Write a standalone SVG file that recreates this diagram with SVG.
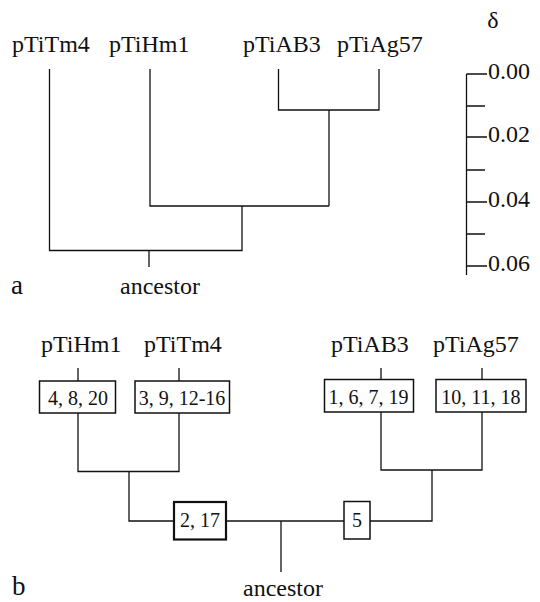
<svg xmlns="http://www.w3.org/2000/svg" width="540" height="602" viewBox="0 0 540 602">
<style>
  text { font-family: 'Liberation Serif', 'Times New Roman', serif; fill: #111; }
  .lab { font-size: 24px; }
  .num { font-size: 20px; }
  .pl { font-size: 27px; }
  .ln { stroke: #111; stroke-width: 1.3; fill: none; }
  .box { stroke: #111; stroke-width: 1.5; fill: #fff; }
  .boxb { stroke: #111; stroke-width: 2.2; fill: #fff; }
</style>
<rect width="540" height="602" fill="#fff"/>
<!-- Panel a -->
<g id="a-labels">
  <text class="lab" x="12" y="52">pTiTm4</text>
  <text class="lab" x="109" y="52">pTiHm1</text>
  <text class="lab" x="243" y="52">pTiAB3</text>
  <text class="lab" x="337" y="52">pTiAg57</text>
  <text class="lab" x="160" y="294" text-anchor="middle">ancestor</text>
  <text class="pl" x="11" y="294">a</text>
</g>
<g id="a-tree" class="ln">
  <path d="M49.5,69 V250.5 H242 V206"/>
  <path d="M150,69 V206 H329"/>
  <path d="M329,206 V110"/>
  <path d="M278.5,69 V110 H379 V69"/>
  <path d="M149,250.5 V267"/>
</g>
<g id="scale">
  <text class="lab" x="493" y="28" text-anchor="middle">δ</text>
  <g class="ln">
    <path d="M466.5,74 V275"/>
    <path d="M466.5,74 H487 M466.5,106 H485 M466.5,137 H487 M466.5,170 H485 M466.5,202 H487 M466.5,234 H485 M466.5,266 H487"/>
  </g>
  <text class="lab" x="488" y="79">0.00</text>
  <text class="lab" x="488" y="142">0.02</text>
  <text class="lab" x="488" y="207">0.04</text>
  <text class="lab" x="488" y="271">0.06</text>
</g>

<!-- Panel b -->
<g id="b-connectors" class="ln">
  <path d="M78,368 V381 M179,368 V381 M381,368 V380 M482,368 V380"/>
  <path d="M78,413 V471.5 H179 V413"/>
  <path d="M129,471.5 V521 H174"/>
  <path d="M226,521 H344"/>
  <path d="M370,521 H432 V470 M381,412 V470 H482 V412"/>
  <path d="M281,521 V572"/>
</g>
<g id="b-labels">
  <text class="lab" x="41" y="352">pTiHm1</text>
  <text class="lab" x="144" y="352">pTiTm4</text>
  <text class="lab" x="331" y="352">pTiAB3</text>
  <text class="lab" x="433" y="352">pTiAg57</text>
  <text class="lab" x="283" y="596" text-anchor="middle">ancestor</text>
  <text class="pl" x="12" y="595">b</text>
</g>
<g id="n-hm1">
  <rect class="box" x="39.5" y="381" width="76" height="32"/>
  <text class="num" x="78" y="405" text-anchor="middle">4, 8, 20</text>
</g>
<g id="n-tm4">
  <rect class="box" x="135" y="381" width="94.5" height="32"/>
  <text class="num" x="182" y="405" text-anchor="middle">3, 9, 12-16</text>
</g>
<g id="n-ab3">
  <rect class="box" x="324.5" y="379.5" width="89" height="32.5"/>
  <text class="num" x="368.5" y="403.5" text-anchor="middle">1, 6, 7, 19</text>
</g>
<g id="n-ag57">
  <rect class="box" x="436" y="379.5" width="90" height="32.5"/>
  <text class="num" x="481" y="403.5" text-anchor="middle">10, 11, 18</text>
</g>
<g id="n-217">
  <rect class="boxb" x="174" y="502" width="52" height="37.5"/>
  <text class="num" x="200" y="527" text-anchor="middle">2, 17</text>
</g>
<g id="n-5">
  <rect class="box" x="344" y="501.5" width="26" height="37.5"/>
  <text class="num" x="357" y="527" text-anchor="middle">5</text>
</g>
</svg>
